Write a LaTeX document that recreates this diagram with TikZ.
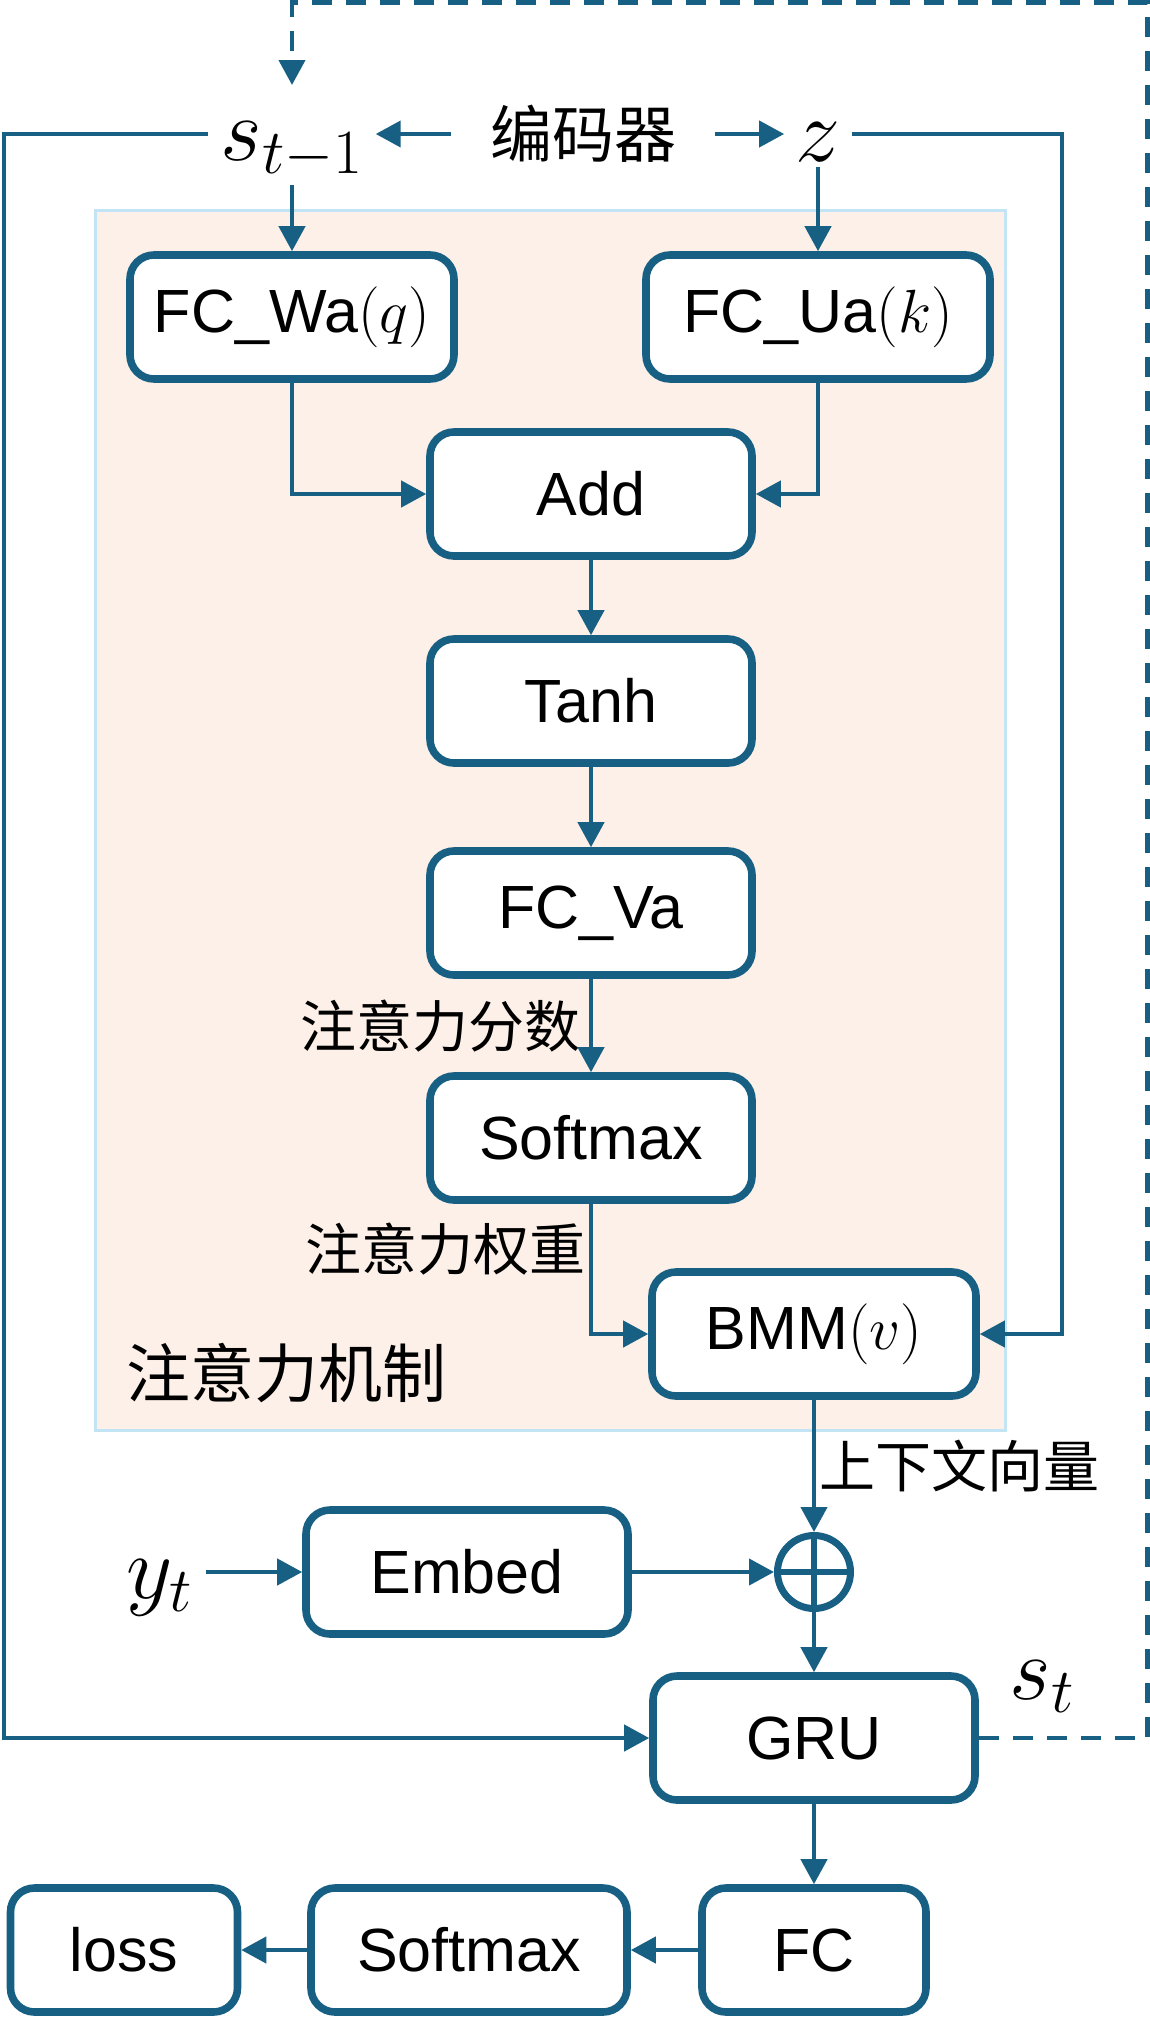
\RequirePackage{fix-cm}
\documentclass[tikz,border=0pt]{standalone}
\usepackage{fontspec}
\setmainfont{Liberation Sans}
\newfontfamily\cjk{Noto Sans CJK SC}
\usetikzlibrary{arrows.meta}
\definecolor{boxblue}{RGB}{23,96,131}
\definecolor{framefill}{RGB}{252,240,232}
\definecolor{frameline}{RGB}{195,228,245}
\tikzset{
  blk/.style={draw=boxblue, line width=3.8pt, rounded corners=12pt, fill=white,
    minimum width=161pt, minimum height=62pt, inner sep=0pt,
    font=\fontsize{30.5}{35}\selectfont},
  arr/.style={draw=boxblue, line width=2.1pt, -{Triangle[length=12.5pt,width=13pt]}},
  darr/.style={arr, dash pattern=on 10pt off 7pt},
  cjklab/.style={inner sep=0pt, font=\cjk\fontsize{28}{32}\selectfont},
  mathlab/.style={inner xsep=6pt, inner ysep=3pt, font=\fontsize{45}{50}\selectfont}
}
\begin{document}
\begin{tikzpicture}[x=0.5pt,y=-0.5pt]
\useasboundingbox (0,0) rectangle (1150,2029);

% attention block
\draw[frameline, fill=framefill, line width=1.5pt] (95,210) rectangle (1005,1430);
\node[cjklab, font=\cjk\fontsize{32}{36}\selectfont] (attlab) at (286,1373) {注意力机制};

\node[blk, minimum width=162pt] (fcwa) at (292,317) {FC\_Wa$(q)$};
\node[blk, minimum width=172pt] (fcua) at (818,317) {FC\_Ua$(k)$};
\node[blk, minimum width=161pt] (add) at (591,494) {Add};
\node[blk, minimum width=161pt] (tanh) at (591,701) {Tanh};
\node[blk, minimum width=161pt] (fcva) at (591,913) {FC\_Va};
\node[blk, minimum width=161pt] (soft) at (591,1138) {Softmax};
\node[blk, minimum width=162pt] (bmm) at (814,1334) {BMM$(v)$};

% decoder
\node[circle, draw=boxblue, line width=3.5pt, minimum size=36.5pt, inner sep=0pt] (plus) at (814,1572) {};
\draw[boxblue, line width=3pt] (plus.north) -- (plus.south) (plus.west) -- (plus.east);
\node[blk] (emb) at (467,1572) {Embed};
\node[blk] (gru) at (814,1738) {GRU};
\node[blk, minimum width=112pt] (fc) at (814,1950) {FC};
\node[blk, minimum width=158pt] (soft2) at (469,1950) {Softmax};
\node[blk, minimum width=113.5pt] (loss) at (124,1950) {loss};

% inputs
\node[cjklab, font=\cjk\fontsize{31}{36}\selectfont, inner xsep=19.5pt] (enc) at (583,134) {编码器};
\node[mathlab, anchor=base] (sprev) at (292,160) {$s_{t-1}$};
\node[mathlab, anchor=base, inner xsep=5.5pt] (z) at (818,161) {$z$};
\node[mathlab, anchor=base] (yt) at (160,1598) {$y_t$};
\node[mathlab, anchor=base] (st) at (1042,1699) {$s_t$};

% labels
\node[cjklab] (score) at (440,1026) {注意力分数};
\node[cjklab] (weight) at (445,1249) {注意力权重};
\node[cjklab] (ctx) at (959,1466) {上下文向量};

\coordinate (lefttop) at (4,134);
\coordinate (leftbot) at (4,1738);
\coordinate (righttop) at (1062,134);
\coordinate (dbr) at (1147.5,1738);
\coordinate (dtr) at (1147.5,2.5);
\coordinate (dtl) at (292,2.5);
\coordinate (dtip) at (292,85);

\draw[arr] (enc.west) -- (enc.west -| sprev.east);
\draw[arr] (enc.east) -- (enc.east -| z.west);
\draw[arr] (sprev.south) -- (fcwa.north);
\draw[arr] (z.south) -- (fcua.north);
\draw[arr] (enc.west -| sprev.west) -- (lefttop) -- (leftbot) -- (gru.west);
\draw[arr] (enc.east -| z.east) -- (righttop) -- (righttop |- bmm.east) -- (bmm.east);

\draw[arr] (fcwa.south) |- (add.west);
\draw[arr] (fcua.south) |- (add.east);
\draw[arr] (add) -- (tanh);
\draw[arr] (tanh) -- (fcva);
\draw[arr] (fcva) -- (soft);
\draw[arr] (soft.south) |- (bmm.west);
\draw[arr] (bmm) -- (plus);
\draw[arr] (yt.east |- emb.west) -- (emb.west);
\draw[arr] (emb) -- (plus);
\draw[arr] (plus) -- (gru);
\draw[arr] (gru) -- (fc);
\draw[arr] (fc) -- (soft2);
\draw[arr] (soft2) -- (loss);
\draw[darr] (gru.east) -- (dbr) -- (dtr) -- (dtl) -- (dtip);
\end{tikzpicture}
\end{document}
